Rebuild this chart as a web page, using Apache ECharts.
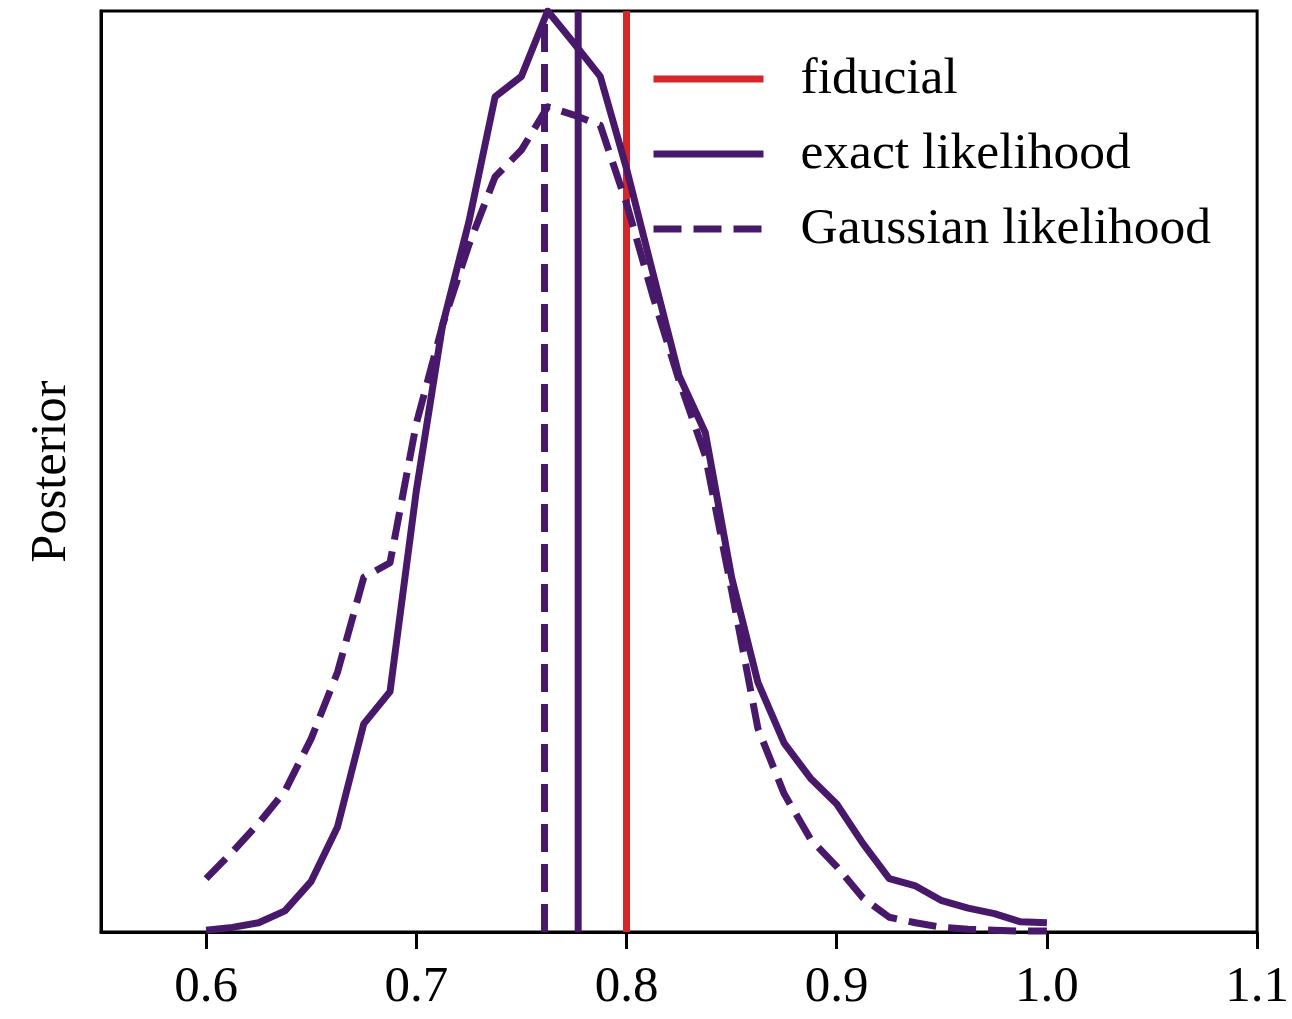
<!DOCTYPE html>
<html>
<head>
<meta charset="utf-8">
<script src="https://cdn.jsdelivr.net/npm/echarts@6/dist/echarts.min.js"></script>
<style>
  html, body { margin: 0; padding: 0; background: #fff; }
  #chart { width: 1292px; height: 1019px; }
</style>
</head>
<body>
<div id="chart"></div>
<script>
// parameter grid (bin centres)
var xs = [0.6, 0.6125, 0.625, 0.6375, 0.65, 0.6625, 0.675, 0.6875, 0.7, 0.7125, 0.725,
          0.7375, 0.75, 0.7625, 0.775, 0.7875, 0.8, 0.8125, 0.825, 0.8375, 0.85,
          0.8625, 0.875, 0.8875, 0.9, 0.9125, 0.925, 0.9375, 0.95, 0.9625, 0.975, 0.9875, 1.0];

// posterior, exact likelihood (arbitrary units, peak = 100)
var exactPost = [0.2, 0.5, 1.0, 2.3, 5.5, 11.4, 22.6, 26.1, 47.9, 65.9, 77.1,
                 90.7, 92.9, 100, 96.5, 92.9, 82.9, 71.6, 60.4, 54.2, 38.5,
                 27.1, 20.5, 16.7, 13.9, 9.6, 5.8, 5.0, 3.4, 2.6, 2.0, 1.1, 1.0];

// posterior, Gaussian likelihood
var gaussPost = [5.8, 8.7, 11.8, 15.3, 21.0, 28.2, 38.5, 40.1, 55.2, 65.9, 74.6,
                 82.0, 84.9, 89.6, 88.7, 87.6, 79.1, 69.1, 59.9, 51.7, 37.1,
                 22.1, 15.0, 10.1, 7.1, 3.7, 1.6, 1.0, 0.5, 0.3, 0.2, 0.1, 0.1];

// vertical markers
var fiducial = 0.8;
var exactMean = 0.777;
var gaussMean = 0.761;

var xTicks = [0.6, 0.7, 0.8, 0.9, 1.0, 1.1];

var purple = '#48186a';
var red = '#d62728';
var font = "'Liberation Serif', 'DejaVu Serif', serif";
var dash = [28, 12];
var lw = 7;

function pairs(x, y) {
    var out = [];
    for (var i = 0; i < x.length; i++) {
        out.push([x[i], y[i]]);
    }
    return out;
}

// vertical line from bottom to top of the y range
function vline(v) {
    return [[v, 0], [v, 100]];
}

var myChart = echarts.init(document.getElementById('chart'));
myChart.setOption({
    animation: false,
    backgroundColor: '#fff',
    grid: {
        left: 101,
        right: 33,
        top: 11,
        bottom: 87,
        show: true,
        borderColor: '#000',
        borderWidth: 3
    },
    legend: {
        orient: 'vertical',
        left: 645,
        top: 48,
        itemWidth: 110,
        itemHeight: 10,
        itemGap: 23,
        itemStyle: { opacity: 0 },
        lineStyle: { width: lw },
        textStyle: {
            fontFamily: font,
            fontSize: 51.5,
            lineHeight: 51,
            color: '#000',
            padding: [0, 0, 0, 32]
        },
        data: ['fiducial', 'exact likelihood', 'Gaussian likelihood']
    },
    xAxis: {
        type: 'value',
        min: 0.55,
        max: 1.1,
        axisLine: { lineStyle: { color: '#000', width: 3 } },
        axisTick: {
            show: true,
            length: 17,
            lineStyle: { color: '#000', width: 3 },
            customValues: xTicks
        },
        axisLabel: {
            customValues: xTicks,
            margin: 30,
            fontFamily: font,
            fontSize: 51,
            color: '#000',
            formatter: function(v) { return v.toFixed(1); }
        },
        splitLine: { show: false }
    },
    yAxis: {
        type: 'value',
        min: 0,
        max: 100,
        name: 'Posterior',
        nameLocation: 'middle',
        nameRotate: 90,
        nameGap: 24,
        nameTextStyle: { fontFamily: font, fontSize: 50.5, color: '#000' },
        axisLine: { show: true, lineStyle: { color: '#000', width: 3 } },
        axisTick: { show: false },
        axisLabel: { show: false },
        splitLine: { show: false }
    },
    series: [
        {
            name: 'fiducial',
            type: 'line',
            symbol: 'none',
            color: red,
            lineStyle: { color: red, width: lw },
            data: vline(fiducial),
            z: 1
        },
        {
            name: 'exact mean',
            type: 'line',
            symbol: 'none',
            color: purple,
            lineStyle: { color: purple, width: lw },
            data: vline(exactMean),
            z: 2
        },
        {
            name: 'Gaussian mean',
            type: 'line',
            symbol: 'none',
            color: purple,
            lineStyle: { color: purple, width: lw, type: dash },
            data: vline(gaussMean),
            z: 2
        },
        {
            name: 'exact likelihood',
            type: 'line',
            symbol: 'none',
            color: purple,
            lineStyle: { color: purple, width: lw, join: 'round' },
            data: pairs(xs, exactPost),
            z: 3
        },
        {
            name: 'Gaussian likelihood',
            type: 'line',
            symbol: 'none',
            color: purple,
            lineStyle: { color: purple, width: lw, type: dash, join: 'round' },
            data: pairs(xs, gaussPost),
            z: 3
        }
    ]
});
</script>
</body>
</html>
